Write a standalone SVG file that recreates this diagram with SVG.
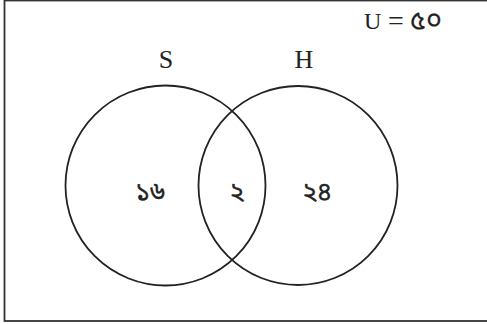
<svg xmlns="http://www.w3.org/2000/svg" width="487" height="324" viewBox="0 0 487 324">
<style>
.frame{fill:none;stroke:#333;stroke-width:1.8}
.set{fill:none;stroke:#222;stroke-width:1.8}
.lbl{font-family:"Liberation Serif","Times New Roman",serif;fill:#222}
.num{font-family:"Noto Sans Bengali","Noto Serif Bengali","Liberation Serif",serif;fill:#222;font-size:25px;text-anchor:middle;stroke:#222;stroke-width:0.4}
</style>
<rect class="frame" x="4.5" y="0.5" width="490" height="320.5"/>
<g id="universe">
<text class="lbl" x="364" y="29" font-size="24">U</text>
<text class="lbl" x="396" y="30" font-size="28" text-anchor="middle">=</text>
<text class="num" x="426" y="29" style="font-size:27px;stroke-width:0.2">৫০</text>
</g>
<g id="S">
<circle class="set" cx="165.5" cy="185.5" r="100"/>
<text class="lbl" x="166" y="68" font-size="26" text-anchor="middle">S</text>
<text class="num" x="150" y="200">১৬</text>
</g>
<g id="H">
<circle class="set" cx="298" cy="185.5" r="99.5"/>
<text class="lbl" x="304" y="68" font-size="26" text-anchor="middle">H</text>
<text class="num" x="317" y="200">২৪</text>
</g>
<g id="SH">
<text class="num" x="237" y="200">২</text>
</g>
<g id="connectors"/>
</svg>
